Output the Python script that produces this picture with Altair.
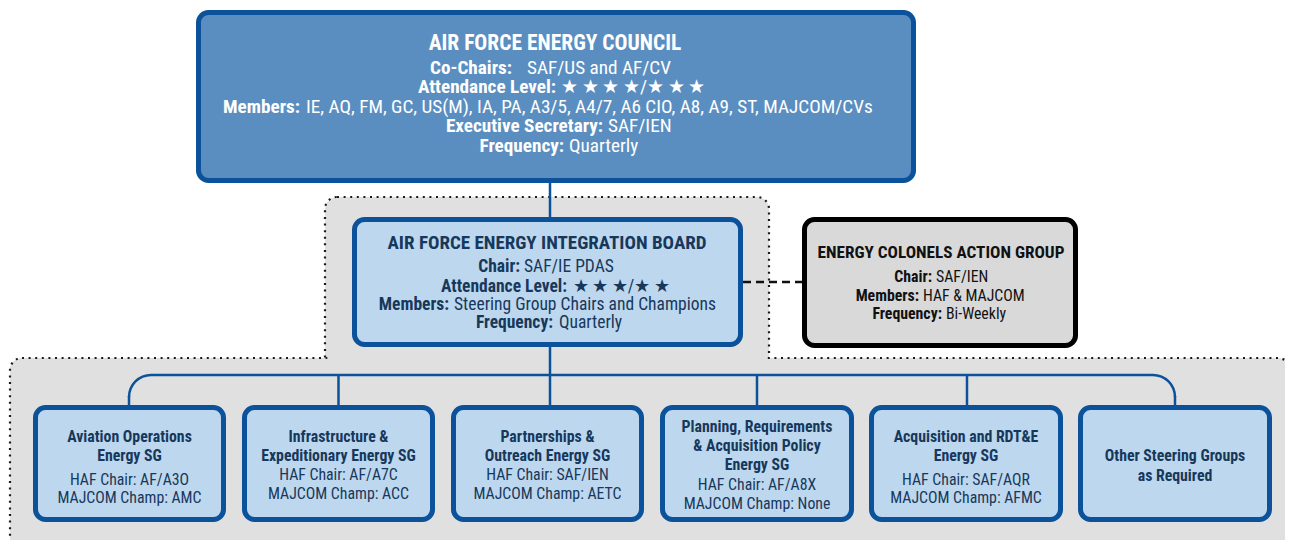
import altair as alt
import pandas as pd

# ---------------- text content ----------------
council_title = "AIR FORCE ENERGY COUNCIL"
council_labels = ["Co-Chairs:", "Attendance Level:", "Members:", "Executive Secretary:", "Frequency:"]
council_values = ["SAF/US and AF/CV", "★\u2009★\u2009★\u2009★/★\u2009★\u2009★",
                  "IE, AQ, FM, GC, US(M), IA, PA, A3/5, A4/7, A6 CIO, A8, A9, ST, MAJCOM/CVs",
                  "SAF/IEN", "Quarterly"]

board_title = "AIR FORCE ENERGY INTEGRATION BOARD"
board_labels = ["Chair:", "Attendance Level:", "Members:", "Frequency:"]
board_values = ["SAF/IE PDAS", "★\u2009★\u2009★/★\u2009★", "Steering Group Chairs and Champions", "Quarterly"]

colonels_title = "ENERGY COLONELS ACTION GROUP"
colonels_labels = ["Chair:", "Members:", "Frequency:"]
colonels_values = ["SAF/IEN", "HAF & MAJCOM", "Bi-Weekly"]

sg_names = [["Aviation Operations", "Energy SG"],
            ["Infrastructure &", "Expeditionary Energy SG"],
            ["Partnerships &", "Outreach Energy SG"],
            ["Planning, Requirements", "& Acquisition Policy", "Energy SG"],
            ["Acquisition and RDT&E", "Energy SG"],
            ["Other Steering Groups", "as Required"]]
sg_chairs = ["HAF Chair: AF/A3O", "HAF Chair: AF/A7C", "HAF Chair: SAF/IEN",
             "HAF Chair: AF/A8X", "HAF Chair: SAF/AQR", ""]
sg_champs = ["MAJCOM Champ: AMC", "MAJCOM Champ: ACC", "MAJCOM Champ: AETC",
             "MAJCOM Champ: None", "MAJCOM Champ: AFMC", ""]

# ---------------- layout (pixel frame of the picture) ----------------
FONT = "Liberation Sans Narrow, Arial Narrow, Roboto Condensed, Liberation Sans, sans-serif"
BLUE = "#0b529b"
MID = "#5b8ec0"
LIGHT = "#bdd7ee"
GRAY = "#e0e0e0"
NAVY = "#17385b"

council_box = (196, 916, 10, 183)
board_box = (352, 743, 217, 347)
colonels_box = (802, 1078, 217, 348)
sg_boxes_x = [(33, 226), (242, 435), (451, 644), (660, 854), (869, 1063), (1078, 1272)]
sg_box_y = (405, 522)

council_title_pos = (555, 44)
council_label_end = [512, 556, 300, 603, 564]
council_value_start = [527, 561, 306, 608, 569]
council_rows_y = [67.5, 87, 106.5, 126, 145.5]

board_title_pos = (547, 243)
board_label_end = [520, 567, 449, 553]
board_value_start = [524, 573, 454, 559]
board_rows_y = [267, 287, 305, 323]

colonels_title_pos = (941, 253)
colonels_label_end = [932, 919, 942]
colonels_value_start = [936, 923, 946]
colonels_rows_y = [277, 296, 314]

sg_centers = [129.5, 338.5, 547.5, 757, 966, 1175]
sg_name_y = [[437, 456], [437, 456], [437, 456], [427, 446, 465], [437, 456], [456, 476]]
sg_info_y = [[480, 498], [475, 494], [475, 494], [485, 504], [480, 498], []]

X0, X1, Y0, Y1 = 8, 1285, 8, 540
xs = alt.Scale(domain=[X0, X1], nice=False, zero=False)
ys = alt.Scale(domain=[Y0, Y1], nice=False, zero=False, reverse=True)


def X(f):
    return alt.X(f, type="quantitative", scale=xs, axis=None)


def Y(f):
    return alt.Y(f, type="quantitative", scale=ys, axis=None)


def inset(box, sw):
    return dict(x=box[0] + sw / 2, x2=box[1] - sw / 2, y=box[2] + sw / 2, y2=box[3] - sw / 2)


def rect_layer(rows, **mark):
    return alt.Chart(pd.DataFrame(rows)).mark_rect(**mark).encode(
        x=X("x"), x2="x2", y=Y("y"), y2="y2")


# gray dotted regions
dots = dict(stroke="#1a1a1a", strokeWidth=2.2, strokeDash=[2, 4.6])
gray_top = rect_layer([dict(x=325, x2=769, y=197, y2=360)], fill=GRAY,
                      cornerRadiusTopLeft=12, cornerRadiusTopRight=12, **dots)
gray_bottom = rect_layer([dict(x=10, x2=1290, y=358, y2=580)], fill=GRAY,
                         cornerRadius=12, **dots)
gray_seam = rect_layer([dict(x=327.5, x2=766.5, y=354, y2=363)], fill=GRAY)

# connectors
segs = pd.DataFrame([
    dict(x=550, y=183, x2=550, y2=217),
    dict(x=550, y=347, x2=550, y2=375),
    dict(x=151, y=375, x2=1153, y2=375),
    dict(x=338.5, y=375, x2=338.5, y2=405),
    dict(x=550, y=375, x2=550, y2=405),
    dict(x=757, y=375, x2=757, y2=405),
    dict(x=967, y=375, x2=967, y2=405),
    dict(x=129, y=396, x2=129, y2=405),
    dict(x=1175, y=396, x2=1175, y2=405),
])
connectors = alt.Chart(segs).mark_rule(color=BLUE, strokeWidth=2.5).encode(
    x=X("x"), y=Y("y"), x2="x2", y2="y2")

dash = alt.Chart(pd.DataFrame([dict(x=743, y=282, x2=802, y2=282)])).mark_rule(
    color="#111111", strokeWidth=2.6, strokeDash=[8, 5]).encode(
    x=X("x"), y=Y("y"), x2="x2", y2="y2")

arc_left = alt.Chart(pd.DataFrame([dict(x=151, y=397)])).mark_arc(
    theta=4.712389, theta2=6.283185, radius=23.25, radius2=20.75, color=BLUE).encode(
    x=X("x"), y=Y("y"))
arc_right = alt.Chart(pd.DataFrame([dict(x=1153, y=397)])).mark_arc(
    theta=0, theta2=1.570796, radius=23.25, radius2=20.75, color=BLUE).encode(
    x=X("x"), y=Y("y"))

# boxes
council = rect_layer([inset(council_box, 5)], fill=MID, stroke=BLUE, strokeWidth=5, cornerRadius=10)
board = rect_layer([inset(board_box, 5)], fill=LIGHT, stroke=BLUE, strokeWidth=5, cornerRadius=10)
colonels = rect_layer([inset(colonels_box, 5)], fill="#d9d9d9", stroke="#000000", strokeWidth=5,
                      cornerRadius=10)
sgs = rect_layer([inset((a, b, sg_box_y[0], sg_box_y[1]), 5) for a, b in sg_boxes_x],
                 fill=LIGHT, stroke=BLUE, strokeWidth=5, cornerRadius=10)

# text tables
bold_c, reg_c, bold_r, reg_l = [], [], [], []
bold_c.append(dict(x=council_title_pos[0], y=council_title_pos[1], t=council_title, s=21.5, c="#ffffff"))
for lab, val, xe, xv, yy in zip(council_labels, council_values, council_label_end,
                                council_value_start, council_rows_y):
    bold_r.append(dict(x=xe, y=yy, t=lab, s=19.2, c="#ffffff"))
    reg_l.append(dict(x=xv, y=yy, t=val, s=19.2, c="#ffffff"))

bold_c.append(dict(x=board_title_pos[0], y=board_title_pos[1], t=board_title, s=19, c=NAVY))
for lab, val, xe, xv, yy in zip(board_labels, board_values, board_label_end,
                                board_value_start, board_rows_y):
    bold_r.append(dict(x=xe, y=yy, t=lab, s=17.5, c=NAVY))
    reg_l.append(dict(x=xv, y=yy, t=val, s=17.5, c=NAVY))

bold_c.append(dict(x=colonels_title_pos[0], y=colonels_title_pos[1], t=colonels_title, s=17.2, c="#111111"))
for lab, val, xe, xv, yy in zip(colonels_labels, colonels_values, colonels_label_end,
                                colonels_value_start, colonels_rows_y):
    bold_r.append(dict(x=xe, y=yy, t=lab, s=15.8, c="#111111"))
    reg_l.append(dict(x=xv, y=yy, t=val, s=15.8, c="#111111"))

for cx, names, ny, chair, champ, iy in zip(sg_centers, sg_names, sg_name_y, sg_chairs, sg_champs, sg_info_y):
    for n, yy in zip(names, ny):
        bold_c.append(dict(x=cx, y=yy, t=n, s=15.8, c=NAVY))
    for n, yy in zip([chair, champ], iy):
        reg_c.append(dict(x=cx, y=yy, t=n, s=15.8, c=NAVY))


def text_layer(rows, weight, align):
    return alt.Chart(pd.DataFrame(rows)).mark_text(
        font=FONT, fontWeight=weight, align=align, baseline="middle").encode(
        x=X("x"), y=Y("y"), text="t:N",
        size=alt.Size("s:Q", scale=None, legend=None),
        color=alt.Color("c:N", scale=None, legend=None))


texts = [text_layer(bold_c, "bold", "center"), text_layer(reg_c, "normal", "center"),
         text_layer(bold_r, "bold", "right"), text_layer(reg_l, "normal", "left")]

chart = alt.layer(
    gray_top, gray_bottom, gray_seam, connectors, arc_left, arc_right, dash,
    council, board, colonels, sgs, *texts
).properties(width=X1 - X0, height=Y1 - Y0, padding=0, autosize="none",
             background="#ffffff").configure_view(strokeWidth=0)

chart.save("out.html", embed_options={"renderer": "svg", "actions": False})
